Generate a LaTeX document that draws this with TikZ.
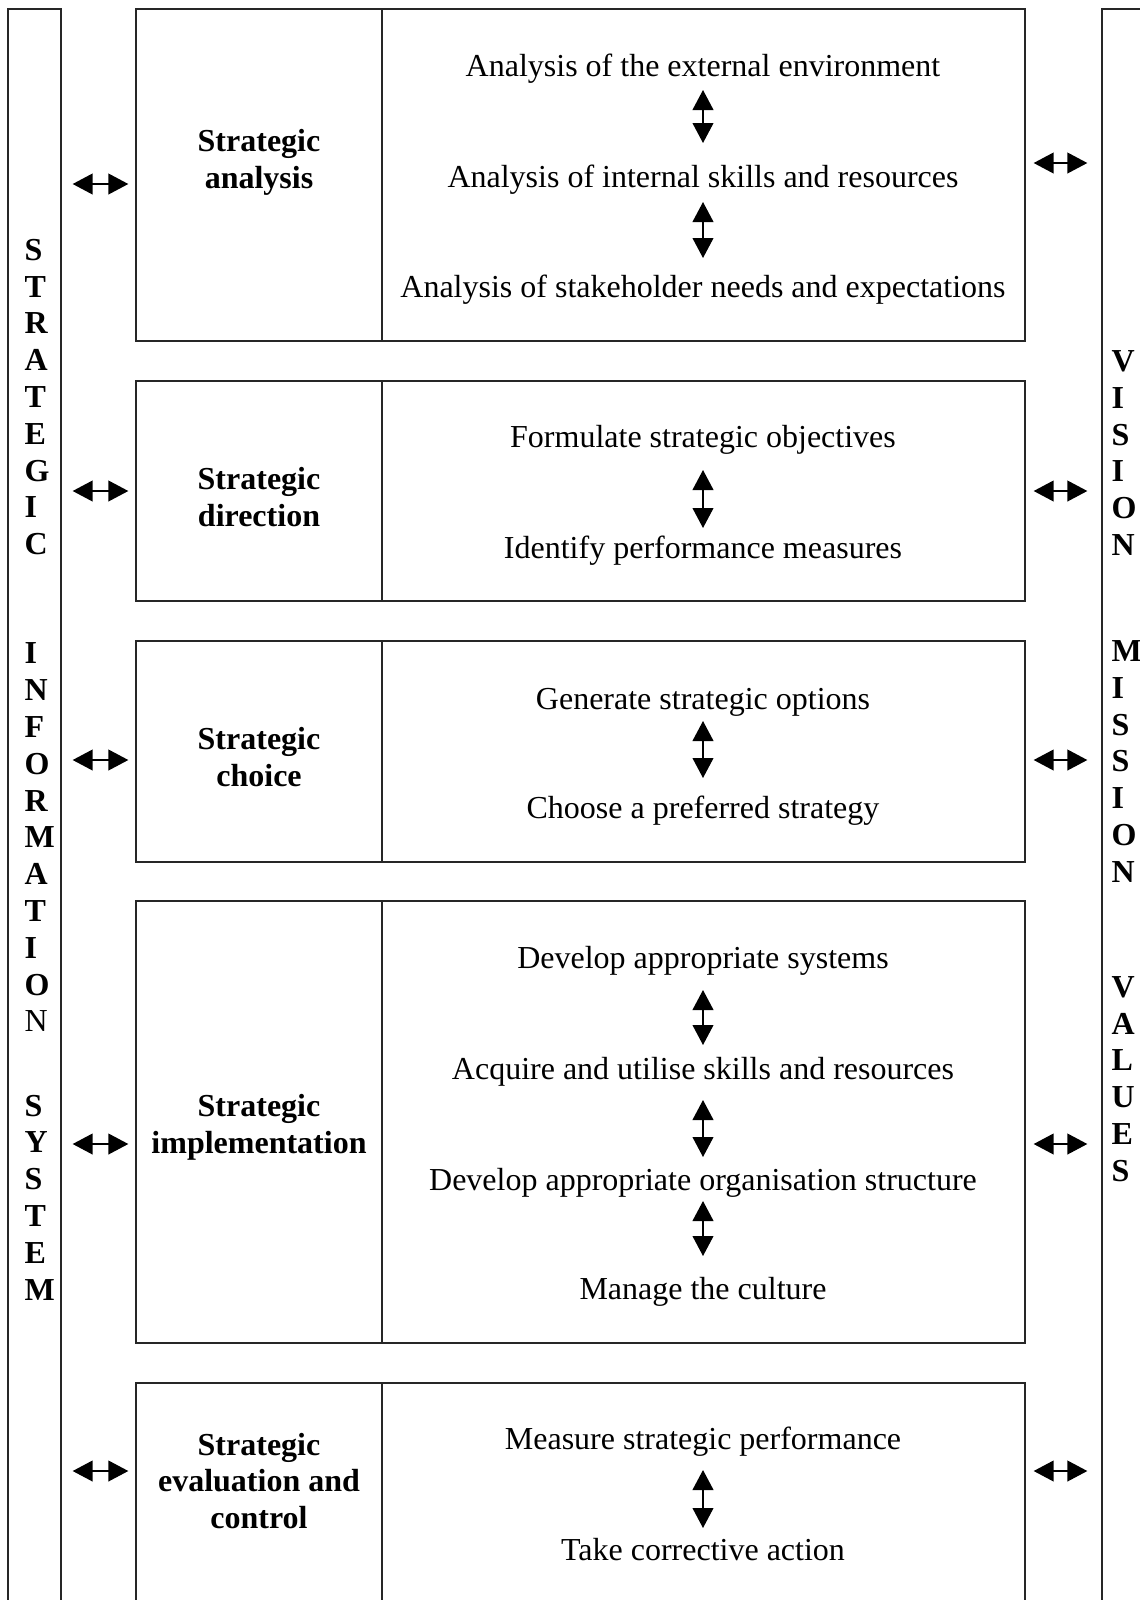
\documentclass[tikz,border=0pt]{standalone}
\usepackage{fontspec}
\setmainfont{Liberation Serif}
\usetikzlibrary{arrows.meta,fit}
\begin{document}
\begin{tikzpicture}[x=0.375pt,y=-0.375pt,
  frame/.style={draw=black!85, line width=0.5pt, inner sep=0pt},
  rule/.style={draw=black!85, line width=0.5pt},
  item/.style={font=\fontsize{12}{14}\selectfont, inner sep=0pt, text height=9.5pt, text depth=1.5pt},
  lab/.style={font=\fontsize{12}{13.75}\selectfont\bfseries, align=center, inner sep=0pt},
  letters/.style={font=\fontsize{12}{13.8}\selectfont\bfseries, align=left, inner sep=0pt, anchor=west},
  dbl/.style={{Triangle[length=7.5pt,width=7.8pt]}-{Triangle[length=7.5pt,width=7.8pt]}, line width=0.6pt, black},
  leftarr/.style={dbl, shorten <=4.125pt, shorten >=2.625pt},
  rightarr/.style={dbl, shorten <=3pt, shorten >=5.25pt}
]
\useasboundingbox (0,0) rectangle (1140,1600);
\clip (0,0) rectangle (1140,1600);

% side bars
\node[frame, fit={(8,9) (61,1640)}] (barL) {};
\node[frame, fit={(1102,9) (1170,1640)}] (barR) {};

% letters in the side bars
\node[letters] (sL1) at (24,397) {S\\T\\R\\A\\T\\E\\G\\I\\C};
\node[letters] (sL2) at (24,837.5) {I\\N\\F\\O\\R\\M\\A\\T\\I\\O\\{\mdseries N}};
\node[letters] (sL3) at (24,1197.5) {S\\Y\\S\\T\\E\\M};
\node[letters] (sR1) at (1111,453) {V\\I\\S\\I\\O\\N};
\node[letters] (sR2) at (1111,761.5) {M\\I\\S\\S\\I\\O\\N};
\node[letters] (sR3) at (1111,1079) {V\\A\\L\\U\\E\\S};

% boxes
\node[frame, fit={(136,9) (1025,341)}] (b1) {};
\node[frame, fit={(136,381) (1025,601)}] (b2) {};
\node[frame, fit={(136,641) (1025,862)}] (b3) {};
\node[frame, fit={(136,901) (1025,1343)}] (b4) {};
\node[frame, fit={(136,1383) (1025,1640)}] (b5) {};
\coordinate (dv) at (382,0);
\foreach \b in {b1,b2,b3,b4,b5}{
  \draw[rule] (\b.north -| dv) -- (\b.south -| dv);
}

% left labels
\node[lab] (l1) at (259,162.5) {Strategic\\analysis};
\node[lab] (l2) at (259,497) {Strategic\\direction};
\node[lab] (l3) at (259,757) {Strategic\\choice};
\node[lab] (l4) at (259,1127.5) {Strategic\\implementation};
\node[lab] (l5) at (259,1481) {Strategic\\evaluation and\\control};

% right items
\node[item] (t11) at (703,66) {Analysis of the external environment};
\node[item] (t12) at (703,177) {Analysis of internal skills and resources};
\node[item] (t13) at (703,287) {Analysis of stakeholder needs and expectations};
\node[item] (t21) at (703,437) {Formulate strategic objectives};
\node[item] (t22) at (703,548) {Identify performance measures};
\node[item] (t31) at (703,699) {Generate strategic options};
\node[item] (t32) at (703,808) {Choose a preferred strategy};
\node[item] (t41) at (703,958) {Develop appropriate systems};
\node[item] (t42) at (703,1069) {Acquire and utilise skills and resources};
\node[item] (t43) at (703,1180) {Develop appropriate organisation structure};
\node[item] (t44) at (703,1289) {Manage the culture};
\node[item] (t51) at (703,1439) {Measure strategic performance};
\node[item] (t52) at (703,1550) {Take corrective action};

% vertical arrows between items
\draw[dbl, shorten <=9pt, shorten >=12.75pt] (t11.center) -- (t12.center);
\draw[dbl, shorten <=9.375pt, shorten >=10.875pt] (t12.center) -- (t13.center);
\draw[dbl, shorten <=12.375pt, shorten >=7.5pt] (t21.center) -- (t22.center);
\draw[dbl, shorten <=8.25pt, shorten >=11.25pt] (t31.center) -- (t32.center);
\draw[dbl, shorten <=12pt, shorten >=9pt] (t41.center) -- (t42.center);
\draw[dbl, shorten <=11.625pt, shorten >=8.625pt] (t42.center) -- (t43.center);
\draw[dbl, shorten <=7.875pt, shorten >=12.375pt] (t43.center) -- (t44.center);
\draw[dbl, shorten <=11.625pt, shorten >=8.25pt] (t51.center) -- (t52.center);

% arrow levels
\coordinate (yl1) at (0,184);
\coordinate (yr1) at (0,163);
\coordinate (y2) at (0,491);
\coordinate (y3) at (0,760);
\coordinate (y4) at (0,1144);
\coordinate (y5) at (0,1471);

% horizontal arrows: left bar <-> boxes
\draw[leftarr] (barL.east |- yl1) -- (b1.west |- yl1);
\draw[leftarr] (barL.east |- y2) -- (b2.west |- y2);
\draw[leftarr] (barL.east |- y3) -- (b3.west |- y3);
\draw[leftarr] (barL.east |- y4) -- (b4.west |- y4);
\draw[leftarr] (barL.east |- y5) -- (b5.west |- y5);
% boxes <-> right bar
\draw[rightarr] (b1.east |- yr1) -- (barR.west |- yr1);
\draw[rightarr] (b2.east |- y2) -- (barR.west |- y2);
\draw[rightarr] (b3.east |- y3) -- (barR.west |- y3);
\draw[rightarr] (b4.east |- y4) -- (barR.west |- y4);
\draw[rightarr] (b5.east |- y5) -- (barR.west |- y5);
\end{tikzpicture}
\end{document}
